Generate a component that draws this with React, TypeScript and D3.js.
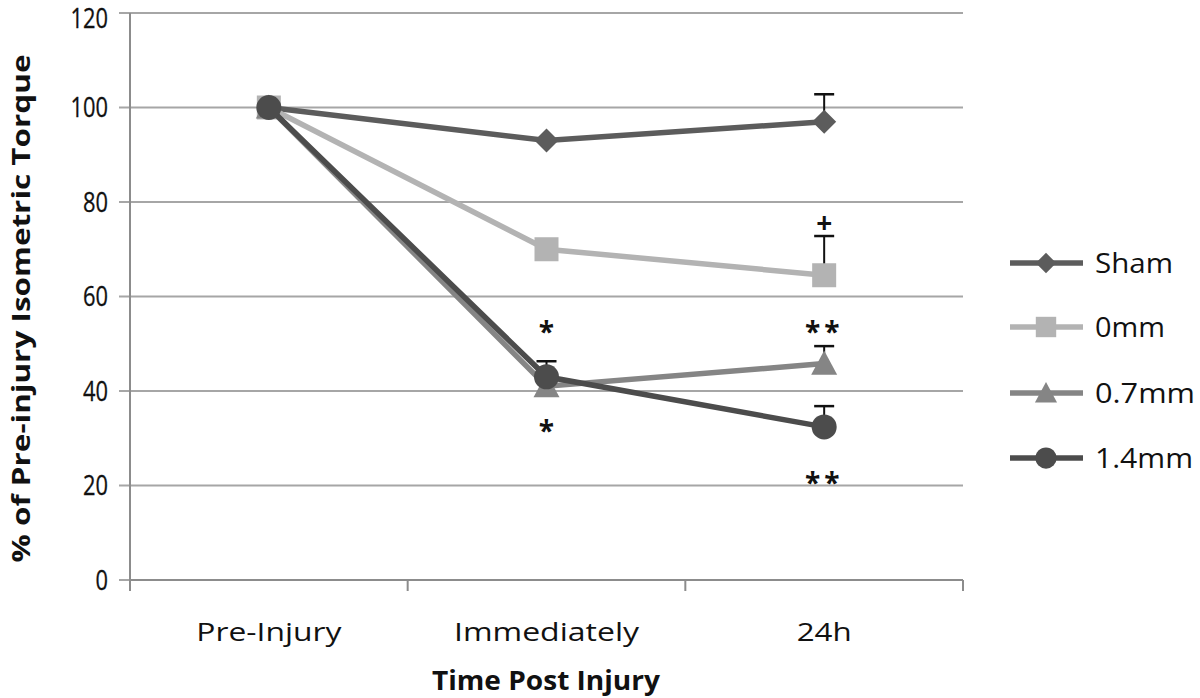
import React from "react";
import * as d3 from "d3";

const categories = ["Pre-Injury", "Immediately", "24h"];
const seriesNames = ["Sham", "0mm", "0.7mm", "1.4mm"];
const shamValues = [100, 93, 97];
const mm0Values = [100, 70, 64.5];
const mm07Values = [100, 41, 45.8];
const mm14Values = [100, 43, 32.4];
// error bar upper values (null = none)
const shamErr = [null, null, 102.8];
const mm0Err = [null, null, 72.8];
const mm07Err = [null, null, 49.5];
const mm14Err = [null, 46.3, 36.8];
const yTicks = [0, 20, 40, 60, 80, 100, 120];
// annotations: [categoryIndex, value, text]
const annotations: [number, number, string][] = [
  [1, 54.5, "*"],
  [1, 33.5, "*"],
  [2, 77.5, "+"],
  [2, 54.5, "**"],
  [2, 22.5, "**"],
];

const colors = ["#5c5c5c", "#b3b3b3", "#858585", "#4c4c4c"];
const shapes = ["diamond", "square", "triangle", "circle"];

function Marker({ shape, x, y, color, s = 1 }: any) {
  if (shape === "diamond") {
    const r = 12 * s;
    return <path d={`M${x},${y - r}L${x + r},${y}L${x},${y + r}L${x - r},${y}Z`} fill={color} />;
  }
  if (shape === "square") {
    const r = 12 * s;
    return <rect x={x - r} y={y - r} width={2 * r} height={2 * r} fill={color} />;
  }
  if (shape === "triangle") {
    const r = 13 * s;
    return <path d={`M${x},${y - r}L${x + r},${y + r * 0.85}L${x - r},${y + r * 0.85}Z`} fill={color} />;
  }
  return <circle cx={x} cy={y} r={12.5 * s} fill={color} />;
}

export default function App() {
  const W = 1200, H = 698;
  const left = 130, right = 963, top = 13, bottom = 580;
  const x = d3.scaleBand().domain(categories).range([left, right]);
  const y = d3.scaleLinear().domain([0, 120]).range([bottom, top]);
  const cx = (i: number) => (x(categories[i]) as number) + x.bandwidth() / 2;
  const allVals = [shamValues, mm0Values, mm07Values, mm14Values];
  const allErr = [shamErr, mm0Err, mm07Err, mm14Err];
  const line = d3.line<number>().x((_, i) => cx(i)).y((d) => y(d));
  const font = "'Open Sans', sans-serif";
  const legendY = [263, 327, 393, 458];
  const catWidths = [145, 185, 55];
  const legendWidths = [78, 70, 100, 98];

  return (
    <svg width={W} height={H} style={{ position: "absolute", left: 0, top: 0, background: "#fff" }}>
      <rect width={W} height={H} fill="#fff" />
      {yTicks.map((t) => (
        <g key={t}>
          <line x1={left - 11} x2={right} y1={y(t)} y2={y(t)} stroke="#a6a6a6" strokeWidth={2} />
          <text
            x={108}
            y={Math.max(y(t), 18)}
            dy="0.36em"
            textAnchor="end"
            fontFamily={font}
            fontSize={27}
            fill="#111"
            stroke="#111"
            strokeWidth={0.3}
            textLength={String(t).length * 12.5}
            lengthAdjust="spacingAndGlyphs"
          >
            {t}
          </text>
        </g>
      ))}
      <line x1={left} x2={left} y1={top} y2={bottom} stroke="#8c8c8c" strokeWidth={2} />
      <line x1={left} x2={right} y1={bottom} y2={bottom} stroke="#8c8c8c" strokeWidth={2} />
      {[...categories.map((c) => x(c) as number), right].map((t, i) => (
        <line key={i} x1={t} x2={t} y1={bottom} y2={bottom + 11} stroke="#8c8c8c" strokeWidth={2} />
      ))}
      {categories.map((c, i) => (
        <text
          key={c}
          x={cx(i)}
          y={641}
          textAnchor="middle"
          fontFamily={font}
          fontSize={26}
          fill="#111"
          textLength={catWidths[i]}
          lengthAdjust="spacingAndGlyphs"
        >
          {c}
        </text>
      ))}
      <text
        x={546}
        y={690}
        textAnchor="middle"
        fontFamily={font}
        fontSize={26}
        fontWeight="bold"
        fill="#111"
        textLength={228}
        lengthAdjust="spacingAndGlyphs"
      >
        Time Post Injury
      </text>
      <text
        transform={`translate(30,${(top + bottom) / 2 + 12}) rotate(-90)`}
        textAnchor="middle"
        fontFamily={font}
        fontSize={25}
        fontWeight="bold"
        fill="#111"
        textLength={508}
        lengthAdjust="spacingAndGlyphs"
      >
        % of Pre-injury Isometric Torque
      </text>
      {allVals.map((vals, si) => (
        <g key={si}>
          {allErr[si].map((e, i) =>
            e == null ? null : (
              <g key={i}>
                <line x1={cx(i)} x2={cx(i)} y1={y(vals[i])} y2={y(e)} stroke="#111" strokeWidth={2} />
                <line x1={cx(i) - 10} x2={cx(i) + 10} y1={y(e)} y2={y(e)} stroke="#111" strokeWidth={2.5} />
              </g>
            )
          )}
          <path d={line(vals) as string} fill="none" stroke={colors[si]} strokeWidth={5.5} />
          {vals.map((v, i) => (
            <Marker key={i} shape={shapes[si]} x={cx(i)} y={y(v)} color={colors[si]} />
          ))}
        </g>
      ))}
      {annotations.map(([ci, v, t], i) => (
        <text
          key={i}
          x={cx(ci)}
          y={y(v)}
          dy="0.7em"
          textAnchor="middle"
          fontFamily={font}
          fontSize={28}
          fontWeight="bold"
          fill="#111"
          letterSpacing={t.length > 1 ? 4 : 0}
        >
          {t}
        </text>
      ))}
      {seriesNames.map((n, i) => (
        <g key={n}>
          <line x1={1010} x2={1083} y1={legendY[i]} y2={legendY[i]} stroke={colors[i]} strokeWidth={5.5} />
          <Marker shape={shapes[i]} x={1046} y={legendY[i]} color={colors[i]} s={0.85} />
          <text
            x={1095}
            y={legendY[i]}
            dy="0.36em"
            fontFamily={font}
            fontSize={27}
            fill="#111"
            textLength={legendWidths[i]}
            lengthAdjust="spacingAndGlyphs"
          >
            {n}
          </text>
        </g>
      ))}
    </svg>
  );
}
